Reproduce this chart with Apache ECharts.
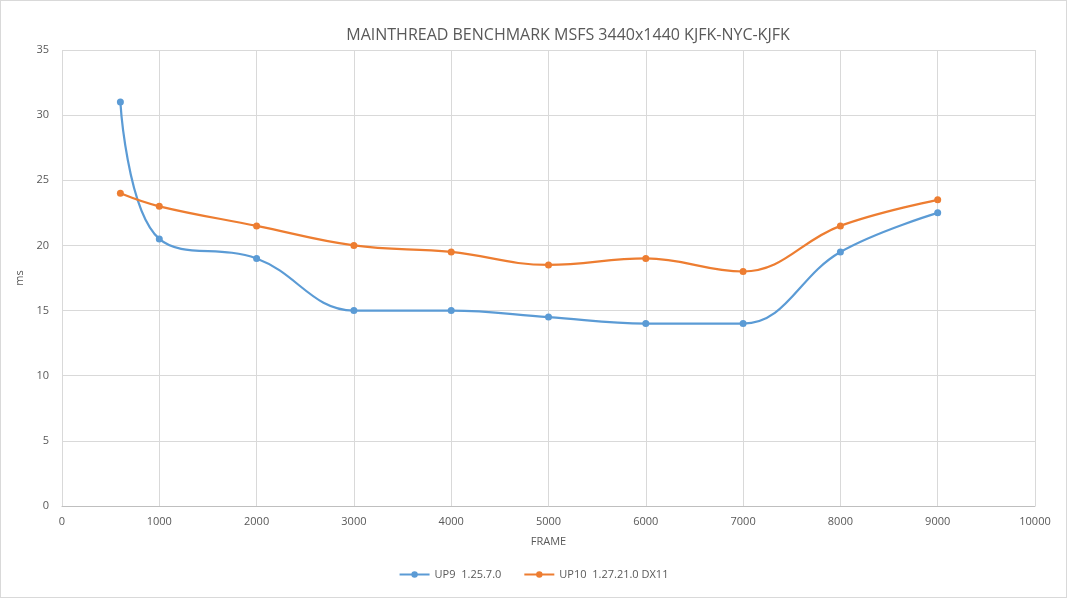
<!DOCTYPE html>
<html>
<head>
<meta charset="utf-8">
<script src="https://cdn.jsdelivr.net/npm/echarts@6/dist/echarts.min.js"></script>
<style>
  html, body { margin: 0; padding: 0; background: #fff; }
  #chart { width: 1067px; height: 598px; box-sizing: border-box; border: 1px solid #d9d9d9; }
</style>
</head>
<body>
<div id="chart"></div>
<script>
// frame numbers
const frames = [600, 1000, 2000, 3000, 4000, 5000, 6000, 7000, 8000, 9000]
// mainthread ms
const up9 = [31, 20.5, 19, 15, 15, 14.5, 14, 14, 19.5, 22.5]
const up10 = [24, 23, 21.5, 20, 19.5, 18.5, 19, 18, 21.5, 23.5]
const seriesNames = ['UP9  1.25.7.0', 'UP10  1.27.21.0 DX11']

const pairs = (ys) => frames.map((x, i) => [x, ys[i]])

const textColor = '#595959'
const font = 'Open Sans'

const chart = echarts.init(document.getElementById('chart'))
chart.setOption({
  animation: false,
  color: ['#5B9BD5', '#ED7D31'],
  textStyle: { fontFamily: font },
  title: {
    text: 'MAINTHREAD BENCHMARK MSFS 3440x1440 KJFK-NYC-KJFK',
    left: 562,
    textAlign: 'center',
    top: 21,
    textStyle: { fontFamily: font, fontSize: 16, fontWeight: 'normal', color: textColor }
  },
  legend: {
    bottom: 12,
    left: 'center',
    itemWidth: 30,
    itemHeight: 8,
    itemGap: 22,
    textStyle: { fontFamily: font, fontSize: 11, color: textColor },
    data: seriesNames
  },
  grid: { left: 61, right: 31, top: 49, bottom: 91, containLabel: false },
  xAxis: {
    type: 'value',
    min: 0, max: 10000, interval: 1000,
    name: 'FRAME',
    nameLocation: 'middle',
    nameGap: 30,
    nameTextStyle: { fontSize: 11, color: textColor },
    axisLine: { show: true, lineStyle: { color: '#bfbfbf' } },
    axisTick: { show: false },
    axisLabel: { fontSize: 11, color: textColor, margin: 10, formatter: (v) => String(v) },
    splitLine: { show: true, lineStyle: { color: '#d9d9d9' } }
  },
  yAxis: {
    type: 'value',
    min: 0, max: 35, interval: 5,
    name: 'ms',
    nameLocation: 'middle',
    nameGap: 33,
    nameTextStyle: { fontSize: 11, color: textColor },
    axisLine: { show: false },
    axisTick: { show: false },
    axisLabel: { fontSize: 11, color: textColor, margin: 13 },
    splitLine: { show: true, lineStyle: { color: '#d9d9d9' } }
  },
  series: [
    {
      name: seriesNames[0], type: 'line', smooth: 0.4,
      data: pairs(up9), symbol: 'circle', symbolSize: 7,
      lineStyle: { width: 2.2 }
    },
    {
      name: seriesNames[1], type: 'line', smooth: 0.4,
      data: pairs(up10), symbol: 'circle', symbolSize: 7,
      lineStyle: { width: 2.2 }
    }
  ]
})
</script>
</body>
</html>
